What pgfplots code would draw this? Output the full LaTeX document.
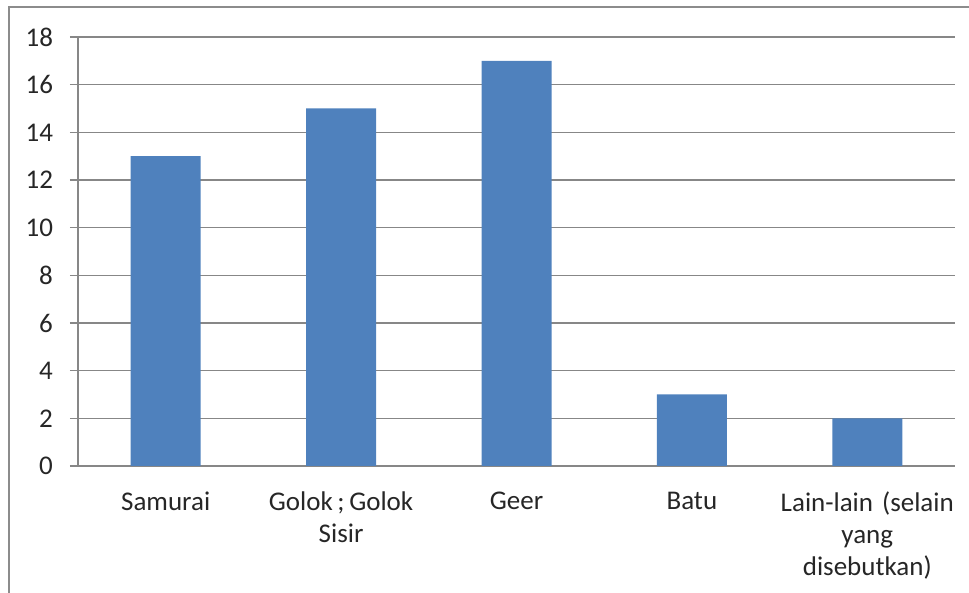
\documentclass[border=0pt]{standalone}
\usepackage{pgfplots}
\pgfplotsset{compat=1.18}
\usepackage{fontspec}
\setmainfont{Carlito}
\definecolor{barblue}{HTML}{4F81BD}
\definecolor{gridgray}{HTML}{878787}
\definecolor{framegray}{HTML}{8C8C8C}
\begin{document}
\frenchspacing
\begin{tikzpicture}
\useasboundingbox (-39pt,-63.5pt) rectangle (445.5pt,233pt);
\clip (-39pt,-63.5pt) rectangle (445.5pt,233pt);
\draw[framegray, line width=1pt] (-34.5pt,-100pt) -- (-34.5pt,229.5pt) -- (480pt,229.5pt);
\begin{axis}[
  at={(0,0)}, anchor=south west,
  scale only axis,
  width=438.5pt, height=214.5pt,
  xmin=-0.5, xmax=4.5,
  ymin=0, ymax=18,
  ytick={0,2,...,18},
  xtick={0,1,2,3,4},
  xticklabels={Samurai, {Golok\hspace{0.17em};\hspace{0.17em}Golok\\Sisir}, Geer, Batu, {Lain-lain (selain\\yang\\disebutkan)}},
  xtick style={draw=none},
  minor xtick={-0.5,0.5,...,4.5},
  minor tick length=4pt,
  major tick length=4pt,
  tick align=outside,
  ymajorgrids,
  grid style={gridgray, line width=0.6pt},
  axis x line*=bottom,
  axis y line*=left,
  axis line style={gridgray, line width=0.6pt, -},
  every tick/.style={gridgray, line width=0.6pt},
  minor tick style={gridgray, line width=0.6pt},
  /pgf/number format/assume math mode=true,
  tick label style={font=\fontsize{13.5}{16}\selectfont, black!85},
  xticklabel style={align=center, text width=100pt, yshift=-5.5pt},
  yticklabel style={xshift=-5pt},
  clip=false,
]
\addplot[ybar, bar width=35pt, fill=barblue, draw=none] coordinates {
  (0,13) (1,15) (2,17) (3,3) (4,2)
};
\end{axis}
\end{tikzpicture}
\end{document}
